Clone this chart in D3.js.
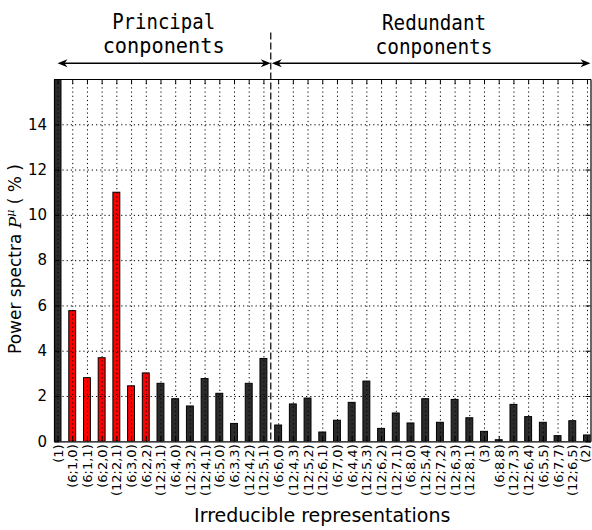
<!DOCTYPE html>
<html>
<head>
<meta charset="utf-8">
<script src="https://cdn.jsdelivr.net/npm/d3@7"></script>
<style>
  html, body { margin: 0; padding: 0; background: #fff; }
  svg { display: block; }
</style>
</head>
<body>
<svg id="chart" width="592" height="530"></svg>
<script>
// Irreducible representations, in plotting order
const categories = [
  "(1)", "(6;1,0)", "(6;1,1)", "(6;2,0)", "(12;2,1)", "(6;3,0)", "(6;2,2)",
  "(12;3,1)", "(6;4,0)", "(12;3,2)", "(12;4,1)", "(6;5,0)", "(6;3,3)",
  "(12;4,2)", "(12;5,1)",
  "(6;6,0)", "(12;4,3)", "(12;5,2)", "(12;6,1)", "(6;7,0)", "(6;4,4)",
  "(12;5,3)", "(12;6,2)", "(12;7,1)", "(6;8,0)", "(12;5,4)", "(12;7,2)",
  "(12;6,3)", "(12;8,1)", "(3)", "(6;8,8)", "(12;7,3)", "(12;6,4)",
  "(6;5,5)", "(6;7,7)", "(12;6,5)", "(2)"
];

// Power spectra P^mu in percent
const power = [
  29.6, 5.77, 2.81, 3.69, 11.0, 2.45, 3.02,
  2.56, 1.88, 1.56, 2.77, 2.12, 0.79,
  2.56, 3.66,
  0.72, 1.65, 1.91, 0.41, 0.93, 1.72,
  2.66, 0.57, 1.25, 0.81, 1.88, 0.84,
  1.85, 1.04, 0.44, 0.07, 1.63, 1.09,
  0.84, 0.25, 0.91, 0.28
];

// Representations drawn in red
const highlighted = ["(6;1,0)", "(6;1,1)", "(6;2,0)", "(12;2,1)", "(6;3,0)", "(6;2,2)"];

// Number of principal components (left of the divider)
const principalCount = 15;

const yTicks = [0, 2, 4, 6, 8, 10, 12, 14];

const svg = d3.select("#chart");
const plotLeft = 54, plotRight = 590.5, plotTop = 79, plotBottom = 441.3;
const barWidth = 0.47;

const x = d3.scaleLinear().domain([-0.24, categories.length - 1 + 0.24]).range([plotLeft, plotRight]);
const y = d3.scaleLinear().domain([0, 16]).range([plotBottom, plotTop]);
const idx = d3.range(categories.length);

svg.append("rect").attr("width", 592).attr("height", 530).attr("fill", "#fff");

svg.append("defs").append("clipPath").attr("id", "plot-clip")
  .append("rect").attr("x", plotLeft).attr("y", plotTop)
  .attr("width", plotRight - plotLeft).attr("height", plotBottom - plotTop);

// Bars
svg.append("g").attr("clip-path", "url(#plot-clip)")
  .selectAll("rect").data(idx).join("rect")
  .attr("x", i => x(i - barWidth / 2))
  .attr("width", x(barWidth) - x(0))
  .attr("y", i => y(power[i]))
  .attr("height", i => y(0) - y(power[i]))
  .attr("fill", i => highlighted.includes(categories[i]) ? "#ff0000" : "#2b2b2b")
  .attr("stroke", "#000")
  .attr("stroke-width", 1);

// Dotted grid
const grid = svg.append("g").attr("class", "grid");
grid.append("g").attr("transform", `translate(0,${plotBottom})`)
  .call(d3.axisBottom(x).tickValues(idx).tickSize(-(plotBottom - plotTop)).tickFormat(""));
grid.append("g").attr("transform", `translate(${plotLeft},0)`)
  .call(d3.axisLeft(y).tickValues(yTicks.filter(v => v > 0)).tickSize(-(plotRight - plotLeft)).tickFormat(""));
grid.selectAll(".domain").remove();
grid.selectAll("line").attr("stroke", "#000").attr("stroke-width", 1)
  .attr("stroke-dasharray", "1.2,3");

// Axes with inward ticks on all four sides
const axes = svg.append("g").attr("font-family", "DejaVu Sans");
const yAxis = axes.append("g").attr("transform", `translate(${plotLeft},0)`)
  .call(d3.axisLeft(y).tickValues(yTicks).tickSizeInner(-5).tickSizeOuter(0).tickPadding(7));
axes.append("g").attr("transform", `translate(${plotRight},0)`)
  .call(d3.axisRight(y).tickValues(yTicks).tickSizeInner(-5).tickSizeOuter(0).tickFormat(""));
const xAxis = axes.append("g").attr("transform", `translate(0,${plotBottom})`)
  .call(d3.axisBottom(x).tickValues(idx).tickSizeInner(-5).tickSizeOuter(0)
    .tickFormat(i => categories[i]));
axes.append("g").attr("transform", `translate(0,${plotTop})`)
  .call(d3.axisTop(x).tickValues(idx).tickSizeInner(-5).tickSizeOuter(0).tickFormat(""));

axes.selectAll(".domain").attr("stroke", "#000").attr("stroke-width", 1.2);
axes.selectAll(".tick line").attr("stroke", "#000").attr("stroke-width", 1);

yAxis.selectAll("text").attr("font-size", 15).attr("fill", "#000")
  .attr("font-family", "DejaVu Sans");

xAxis.selectAll("text")
  .attr("font-size", 13).attr("fill", "#000").attr("font-family", "DejaVu Sans")
  .attr("text-anchor", "end")
  .attr("dy", null)
  .attr("dominant-baseline", "central")
  .attr("transform", (i) => `translate(${i === categories.length - 1 ? -1.5 : 0},3) rotate(-90)`)
  .attr("x", 0).attr("y", 0);

// Divider between principal and redundant components
const divX = x(principalCount - 0.5);
svg.append("line")
  .attr("x1", divX).attr("x2", divX)
  .attr("y1", y(18.05)).attr("y2", y(0))
  .attr("stroke", "#000").attr("stroke-width", 1.2)
  .attr("stroke-dasharray", "7,3");

// Double-headed arrows marking the two groups
function arrowHead(g, tipX, tipY, dir) {
  const len = 10, half = 4;
  g.append("path")
    .attr("d", `M${tipX},${tipY} L${tipX - dir * len},${tipY - half} L${tipX - dir * (len - 3)},${tipY} L${tipX - dir * len},${tipY + half} Z`)
    .attr("fill", "#000");
}
function doubleArrow(x0, x1, yv) {
  const g = svg.append("g");
  const yy = y(yv);
  g.append("line").attr("x1", x0 + 4).attr("x2", x1 - 4)
    .attr("y1", yy).attr("y2", yy).attr("stroke", "#000").attr("stroke-width", 1.5);
  arrowHead(g, x0, yy, -1);
  arrowHead(g, x1, yy, 1);
}
const arrowLevel = 16.7;
doubleArrow(x(0), divX, arrowLevel);
doubleArrow(divX + 1, plotRight, arrowLevel);

// Group titles
const titles = [
  { text: "Principal", cx: x(7.25) - 0.5, yv: 18.2, w: 103 },
  { text: "conponents", cx: x(7.25) - 0.5, yv: 17.15, w: 122 },
  { text: "Redundant", cx: x(25.6), yv: 18.15, w: 104 },
  { text: "conponents", cx: x(25.6), yv: 17.1, w: 117 }
];
svg.append("g").selectAll("text").data(titles).join("text")
  .attr("x", d => d.cx - d.w / 2)
  .attr("y", d => y(d.yv))
  .attr("font-family", "DejaVu Sans Mono")
  .attr("font-size", 21)
  .attr("textLength", d => d.w)
  .attr("lengthAdjust", "spacingAndGlyphs")
  .attr("fill", "#000")
  .text(d => d.text);

// Axis titles
svg.append("text")
  .attr("x", (plotLeft + plotRight) / 2).attr("y", 522)
  .attr("text-anchor", "middle")
  .attr("font-family", "DejaVu Sans").attr("font-size", 19)
  .attr("fill", "#000")
  .text("Irreducible representations");

const yLabel = svg.append("text")
  .attr("transform", `translate(21,${y(8.05)}) rotate(-90)`)
  .attr("text-anchor", "middle")
  .attr("font-family", "DejaVu Sans").attr("font-size", 17)
  .attr("fill", "#000");
yLabel.append("tspan").text("Power spectra ");
yLabel.append("tspan").attr("font-family", "DejaVu Serif").attr("font-style", "italic").text("P");
yLabel.append("tspan").attr("font-family", "DejaVu Serif").attr("font-style", "italic")
  .attr("font-size", 11).attr("dy", -7).text("μ");
yLabel.append("tspan").attr("dy", 7).text("  ( % )");
</script>
</body>
</html>
